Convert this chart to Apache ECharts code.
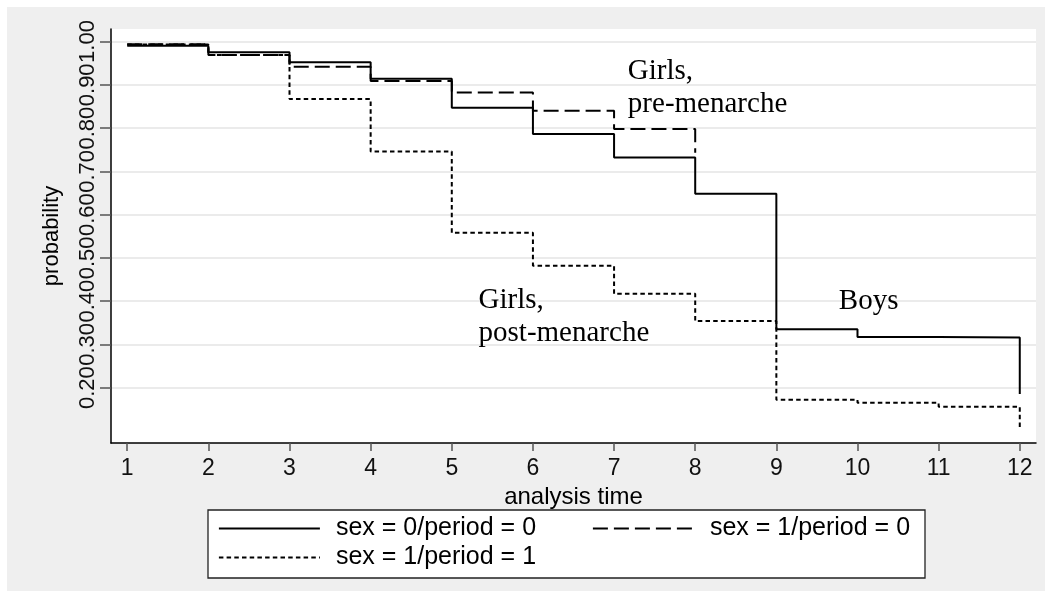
<!DOCTYPE html>
<html>
<head>
<meta charset="UTF-8">
<script src="https://cdn.jsdelivr.net/npm/echarts@6/dist/echarts.min.js"></script>
<style>
body{margin:0;background:#fff;}
#main{position:absolute;left:7px;top:7px;width:1038px;height:584px;}
</style>
</head>
<body>
<div id="main"></div>
<script>
// Kaplan-Meier estimates
var times = [1, 2, 3, 4, 5, 6, 7, 8, 9, 10, 11, 12];
var boys = [0.990, 0.975, 0.952, 0.914, 0.847, 0.786, 0.732, 0.648, 0.335, 0.317, 0.316, 0.185];
var girlsPre = [0.994, 0.969, 0.942, 0.909, 0.882, 0.840, 0.798, 0.743];
var girlsPost = [0.993, 0.969, 0.867, 0.746, 0.558, 0.482, 0.417, 0.354, 0.172, 0.165, 0.156, 0.102];
var yTicks = [0.2, 0.3, 0.4, 0.5, 0.6, 0.7, 0.8, 0.9, 1.0];
var names = ['sex = 0/period = 0', 'sex = 1/period = 0', 'sex = 1/period = 1'];

// text placed on the plot (x, y of first baseline in data units)
var notes = [
	{text: 'Girls,\npre-menarche', x: 7.17, y: 0.909},
	{text: 'Girls,\npost-menarche', x: 5.33, y: 0.380},
	{text: 'Boys', x: 9.77, y: 0.377}
];

function pairs(vals) {
	return vals.map(function (v, i) { return [times[i], v]; });
}

var sans = '"Liberation Sans", Arial, sans-serif';
var dashLong = [15, 6];
var dashShort = [4.5, 3.2];

function legendAt(name, left, top, dash) {
	return {
		data: [name],
		left: left,
		top: top,
		padding: 0,
		itemWidth: 101,
		itemHeight: 14,
		selectedMode: false,
		itemStyle: {opacity: 0},
		lineStyle: {color: '#000', width: 1.8, type: dash},
		textStyle: {fontFamily: sans, fontSize: 25, color: '#000', padding: [0, 0, 0, 11]}
	};
}

var myChart = echarts.init(document.getElementById('main'));

var option = {
	backgroundColor: '#efefef',
	animation: false,
	grid: {left: 104, right: 9, top: 22, bottom: 148, show: true, backgroundColor: '#fff', borderWidth: 0},
	xAxis: {
		type: 'value',
		min: 0.8,
		max: 12.2,
		name: 'analysis time',
		nameLocation: 'middle',
		nameGap: 32,
		nameTextStyle: {fontFamily: sans, fontSize: 24, color: '#000'},
		axisLine: {lineStyle: {color: '#000', width: 1.5}},
		axisTick: {customValues: times, length: 8, lineStyle: {color: '#555', width: 1.5}},
		axisLabel: {customValues: times, fontFamily: sans, fontSize: 23, color: '#111', margin: 14},
		splitLine: {show: false}
	},
	yAxis: {
		type: 'value',
		min: 0.072,
		max: 1.029,
		name: 'probability',
		nameLocation: 'middle',
		nameGap: 48,
		nameTextStyle: {fontFamily: sans, fontSize: 22, color: '#000'},
		axisLine: {show: true, lineStyle: {color: '#000', width: 1.5}},
		axisTick: {show: true, customValues: yTicks, length: 11, lineStyle: {color: '#555', width: 1.5}},
		axisLabel: {
			customValues: yTicks, rotate: 90, fontFamily: sans, fontSize: 22, color: '#111', margin: 12,
			formatter: function (v) { return v.toFixed(2); }
		},
		splitLine: {show: true, lineStyle: {color: '#e4e4e4', width: 1.5}}
	},
	legend: [
		legendAt(names[0], 211, 509, 'solid'),
		legendAt(names[1], 585, 509, dashLong),
		legendAt(names[2], 211, 538, dashShort)
	],
	series: [
		{name: names[0], type: 'line', step: 'end', symbol: 'none', data: pairs(boys),
			lineStyle: {color: '#000', width: 2, type: 'solid'}, itemStyle: {color: '#000'}},
		{name: names[1], type: 'line', step: 'end', symbol: 'none', data: pairs(girlsPre),
			lineStyle: {color: '#000', width: 2, type: dashLong}, itemStyle: {color: '#000'}},
		{name: names[2], type: 'line', step: 'end', symbol: 'none', data: pairs(girlsPost),
			lineStyle: {color: '#000', width: 2, type: dashShort}, itemStyle: {color: '#000'}}
	]
};
myChart.setOption(option);

// legend frame and annotations
var g = [{
	type: 'rect', z: 1,
	shape: {x: 201, y: 503, width: 717, height: 68},
	style: {fill: '#fff', stroke: '#222', lineWidth: 1.3}
}];
notes.forEach(function (n) {
	var p = myChart.convertToPixel({gridIndex: 0}, [n.x, n.y]);
	g.push({
		type: 'text', z: 10,
		x: p[0], y: p[1] - 26,
		style: {text: n.text, font: '29px "Liberation Serif", "Times New Roman", serif', lineHeight: 33,
			fill: '#000', verticalAlign: 'top'}
	});
});
myChart.setOption({graphic: g});
</script>
</body>
</html>
